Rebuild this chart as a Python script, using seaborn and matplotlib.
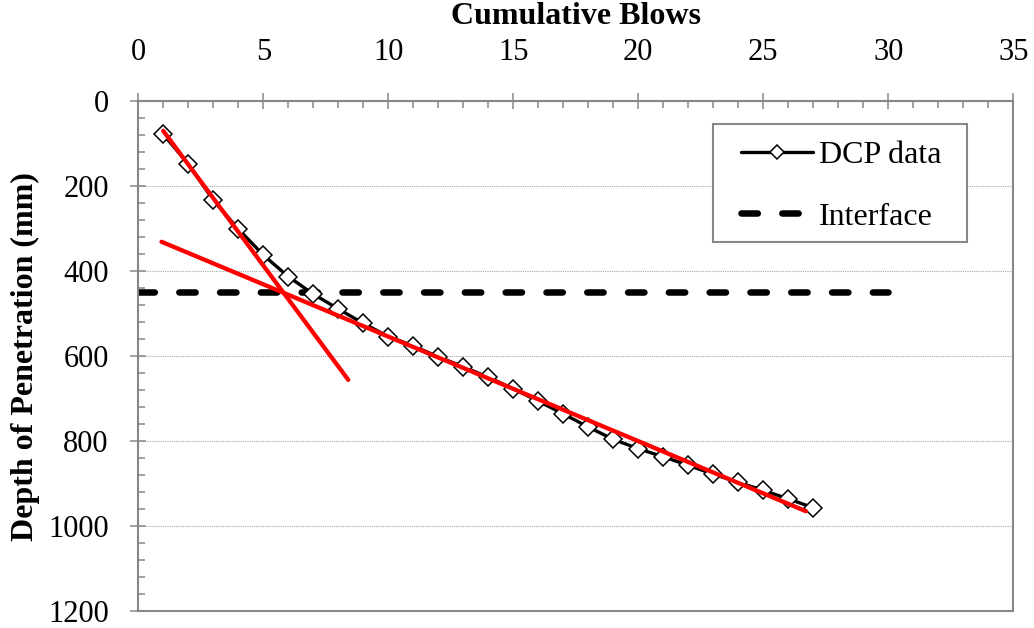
import matplotlib
matplotlib.use("Agg")
import matplotlib.pyplot as plt
import seaborn as sns
import pandas as pd
from matplotlib.lines import Line2D
from matplotlib.patches import Rectangle
from matplotlib.ticker import MultipleLocator

# DCP test record: cumulative blow count vs. depth of penetration
blows = list(range(1, 28))
depth_mm = [78, 148, 233, 301, 362, 413, 454, 489, 523, 554, 576, 602, 625, 650,
            677, 706, 736, 767, 796, 818, 837, 857, 878, 897, 916, 936, 957]

# layer interface depth
interface_blows = [0, 30]
interface_depth = [450, 450]

# straight-line fits to the upper and lower layers
upper_fit_blows = [1.0, 8.4]
upper_fit_depth = [70, 656]
lower_fit_blows = [0.93, 26.7]
lower_fit_depth = [331, 965]

x_ticks = [0, 5, 10, 15, 20, 25, 30, 35]
y_ticks = [0, 200, 400, 600, 800, 1000, 1200]

sns.set_theme(style="white")
plt.rcParams["font.family"] = ["Liberation Serif", "DejaVu Serif"]
plt.rcParams["text.color"] = "black"
plt.rcParams["axes.labelcolor"] = "black"

AXIS_GREY = "#878787"
DASH = (0, (2.5, 3.75))

fig, ax = plt.subplots(figsize=(10.34, 6.28), dpi=100)
fig.subplots_adjust(left=0.1337, right=0.98, top=0.839, bottom=0.027)

dcp = pd.DataFrame({"blows": blows, "depth": depth_mm})
iface = pd.DataFrame({"blows": interface_blows, "depth": interface_depth})
upper = pd.DataFrame({"blows": upper_fit_blows, "depth": upper_fit_depth})
lower = pd.DataFrame({"blows": lower_fit_blows, "depth": lower_fit_depth})

sns.lineplot(data=iface, x="blows", y="depth", ax=ax, color="black",
             linewidth=4.7, zorder=2, sort=False)
ax.lines[-1].set_linestyle(DASH)
ax.lines[-1].set_dash_capstyle("round")

sns.lineplot(data=dcp, x="blows", y="depth", ax=ax, color="black",
             linewidth=2.4, marker="D", markersize=9,
             markerfacecolor="white", markeredgecolor="black",
             markeredgewidth=1.1, zorder=3, sort=False)

for fit in (upper, lower):
    sns.lineplot(data=fit, x="blows", y="depth", ax=ax, color="#ff0000",
                 linewidth=3.1, zorder=4, sort=False)

ax.set_xlim(0, 35)
ax.set_ylim(1200, 0)
ax.xaxis.tick_top()
ax.xaxis.set_label_position("top")
ax.set_xticks(x_ticks)
ax.set_yticks(y_ticks)
ax.xaxis.set_minor_locator(MultipleLocator(1))
ax.yaxis.set_minor_locator(MultipleLocator(40))

ax.tick_params(which="major", direction="inout", length=11.5, width=1.1,
               color=AXIS_GREY, labelsize=22, labelcolor="black")
ax.tick_params(axis="y", which="major", pad=15.5)
ax.tick_params(axis="x", which="major", pad=19)
ax.tick_params(which="minor", direction="in", length=5, width=1.1,
               color=AXIS_GREY)
ax.tick_params(axis="x", which="both", top=True, bottom=False)
ax.tick_params(axis="y", which="both", left=True, right=False)

for side in ("top", "bottom", "left", "right"):
    ax.spines[side].set_visible(True)
    ax.spines[side].set_color(AXIS_GREY)
    ax.spines[side].set_linewidth(1.5)

ax.yaxis.grid(True, which="major", linestyle=(0, (1, 1)), color="#a6a6a6",
              linewidth=0.8)
ax.xaxis.grid(False)

ax.set_xlabel("Cumulative Blows", fontsize=23, fontweight="bold",
              labelpad=10)
ax.set_ylabel("Depth of Penetration (mm)", fontsize=23, fontweight="bold",
              labelpad=6)

# legend box
ax.add_patch(Rectangle((0.6568, 0.7235), 0.2903, 0.2317,
                       transform=ax.transAxes, facecolor="white",
                       edgecolor=AXIS_GREY, linewidth=1.5, zorder=5))

handles = [
    Line2D([], [], color="black", linewidth=2.4, marker="D", markersize=7,
           markerfacecolor="white", markeredgecolor="black",
           markeredgewidth=1.1),
    Line2D([], [], color="black", linewidth=4.7, linestyle=DASH,
           dash_capstyle="round"),
]
leg = ax.legend(handles, ["DCP data", "Interface"], loc="upper left",
                bbox_to_anchor=(0.6888, 0.922), fontsize=23, frameon=False,
                handlelength=2.25, handletextpad=0.2, borderpad=0,
                labelspacing=1.0, borderaxespad=0)
leg.set_zorder(6)

fig.savefig("out.png", dpi=100)
